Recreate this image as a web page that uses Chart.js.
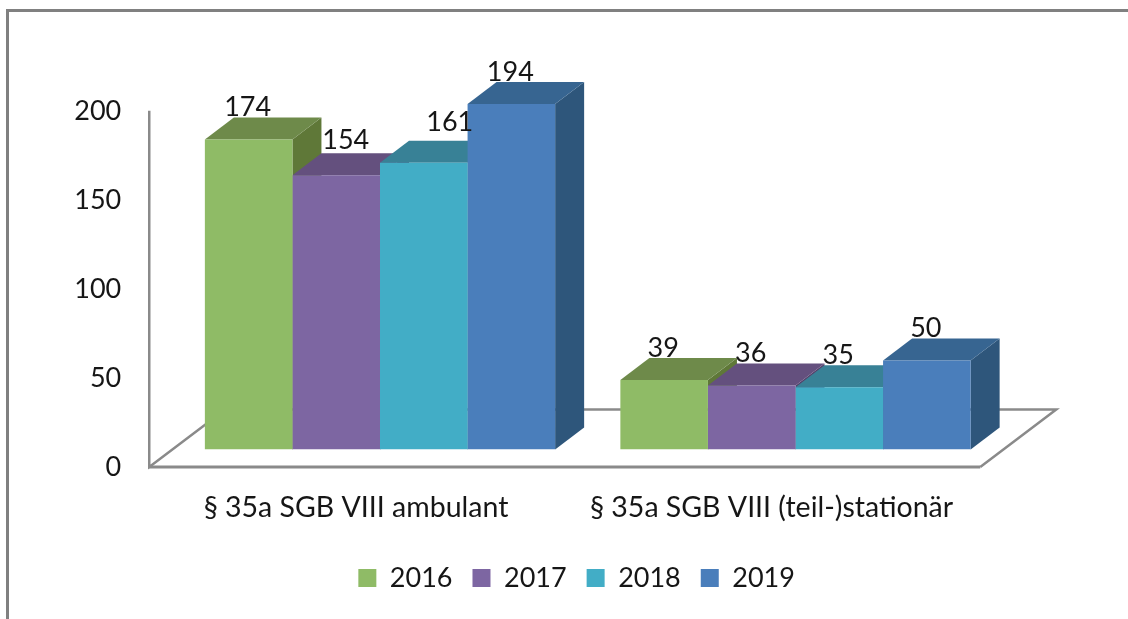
<!DOCTYPE html>
<html>
<head>
<meta charset="utf-8">
<title>§ 35a SGB VIII</title>
<script src="https://cdn.jsdelivr.net/npm/chart.js@4/dist/chart.umd.min.js"></script>
<style>
  html, body { margin: 0; padding: 0; background: #fff; }
  #wrap { position: relative; width: 1128px; height: 619px; overflow: hidden; }
  #frame { position: absolute; left: 6px; top: 9px; width: 1200px; height: 700px; border: 3px solid #808080; }
  canvas { position: absolute; left: 0; top: 0; }
</style>
</head>
<body>
<div id="wrap">
  <div id="frame"></div>
  <canvas id="chart" width="1128" height="619"></canvas>
</div>
<script>
const categories = ['§ 35a SGB VIII ambulant', '§ 35a SGB VIII (teil-)stationär'];
const values2016 = [174, 39];
const values2017 = [154, 36];
const values2018 = [161, 35];
const values2019 = [194, 50];
const yTicks = [0, 50, 100, 150, 200];

const FONT = 'Lato, Carlito, sans-serif';
const TEXT = '#161616';
const AXIS = '#8a8a8a';
const DEPTH_X = 29;
const DEPTH_Y = 22;
// floor sits a bit below and left of the bar fronts
const FLOOR_DX = 23;
const FLOOR_DY = 17.5;
const FLOOR_DEPTH_X = 76;
const FLOOR_DEPTH_Y = 57.5;
const LEGEND_SHIFT = 75;

const series = [
  { label: '2016', data: values2016, front: '#8fbb66', top: '#6e8a4a', side: '#5f7838' },
  { label: '2017', data: values2017, front: '#7d66a2', top: '#64507e', side: '#54426c' },
  { label: '2018', data: values2018, front: '#42adc6', top: '#388196', side: '#2f7085' },
  { label: '2019', data: values2019, front: '#4a7ebb', top: '#376591', side: '#2e567b' }
];

// hand-moved data labels in the original: [dx, dy] by series then category
const labelNudge = {
  '1-0': [10.5, -2.5],
  '2-0': [27, -8.5]
};

function poly(ctx, points, color) {
  ctx.fillStyle = color;
  ctx.beginPath();
  points.forEach(([x, y], i) => (i ? ctx.lineTo(x, y) : ctx.moveTo(x, y)));
  ctx.closePath();
  ctx.fill();
}

// legend is centred on the whole picture span in the original, not the plot
const legendShiftPlugin = {
  id: 'legendShift',
  afterLayout(chart) {
    chart.legend.left += LEGEND_SHIFT;
    chart.legend.right += LEGEND_SHIFT;
  }
};

const floorPlugin = {
  id: 'floor3d',
  beforeDatasetsDraw(chart) {
    const { ctx, scales: { x, y } } = chart;
    const left = x.left - FLOOR_DX;
    const right = x.right - FLOOR_DX;
    const bottom = y.getPixelForValue(0) + FLOOR_DY;
    const top = y.getPixelForValue(200) + FLOOR_DY;
    const back = bottom - FLOOR_DEPTH_Y;
    ctx.save();
    ctx.strokeStyle = AXIS;
    ctx.lineWidth = 2.5;
    ctx.beginPath();
    ctx.moveTo(left, top);
    ctx.lineTo(left, bottom);
    ctx.lineTo(left + FLOOR_DEPTH_X, back);
    ctx.lineTo(right + FLOOR_DEPTH_X, back);
    ctx.lineTo(right, bottom);
    ctx.stroke();
    ctx.lineWidth = 3;
    ctx.beginPath();
    ctx.moveTo(left - 1, bottom);
    ctx.lineTo(right, bottom);
    ctx.stroke();
    ctx.restore();
  }
};

const facesPlugin = {
  id: 'faces3d',
  beforeDatasetsDraw(chart) {
    const { ctx } = chart;
    ctx.save();
    categories.forEach((_, c) => {
      series.forEach((s, d) => {
        const bar = chart.getDatasetMeta(d).data[c];
        const l = bar.x - bar.width / 2;
        const r = bar.x + bar.width / 2;
        poly(ctx, [[r, bar.y], [r + DEPTH_X, bar.y - DEPTH_Y], [r + DEPTH_X, bar.base - DEPTH_Y], [r, bar.base]], s.side);
        poly(ctx, [[l, bar.y], [l + DEPTH_X, bar.y - DEPTH_Y], [r + DEPTH_X, bar.y - DEPTH_Y], [r, bar.y]], s.top);
      });
    });
    ctx.restore();
  }
};

const valueLabelPlugin = {
  id: 'valueLabels',
  afterDatasetsDraw(chart) {
    const { ctx } = chart;
    ctx.save();
    ctx.fillStyle = TEXT;
    ctx.font = `27px ${FONT}`;
    ctx.textAlign = 'center';
    ctx.textBaseline = 'middle';
    series.forEach((s, d) => {
      chart.getDatasetMeta(d).data.forEach((bar, c) => {
        const [dx, dy] = labelNudge[`${d}-${c}`] || [0, 0];
        ctx.fillText(String(s.data[c]), bar.x - 1 + dx, bar.y - 32 + dy);
      });
    });
    ctx.restore();
  }
};

new Chart(document.getElementById('chart'), {
  type: 'bar',
  data: {
    labels: categories,
    datasets: series.map((s) => ({
      label: s.label,
      data: s.data,
      backgroundColor: s.front,
      borderWidth: 0,
      categoryPercentage: 0.843,
      barPercentage: 1
    }))
  },
  options: {
    responsive: false,
    animation: false,
    layout: { padding: { top: 93.3, right: 124.75, left: 0, bottom: 17.5 } },
    plugins: {
      title: { display: false },
      tooltip: { enabled: false },
      legend: {
        position: 'bottom',
        labels: {
          color: TEXT,
          font: { family: FONT, size: 27 },
          boxWidth: 18,
          boxHeight: 18,
          padding: 20
        }
      }
    },
    scales: {
      x: {
        grid: { display: false, drawTicks: false },
        border: { display: false },
        ticks: { color: TEXT, font: { family: FONT, size: 28.5 }, padding: 40.75, maxRotation: 0, labelOffset: -24 },
        afterFit: (scale) => { scale.height = 95; }
      },
      y: {
        min: 0,
        max: 200,
        afterBuildTicks: (scale) => { scale.ticks = yTicks.map((value) => ({ value })); },
        grid: { display: false, drawTicks: false },
        border: { display: false },
        ticks: { color: TEXT, font: { family: FONT, size: 27 }, padding: 51, labelOffset: 17.5 },
        afterFit: (scale) => { scale.width = 172.25; }
      }
    }
  },
  plugins: [legendShiftPlugin, floorPlugin, facesPlugin, valueLabelPlugin]
});
</script>
</body>
</html>
